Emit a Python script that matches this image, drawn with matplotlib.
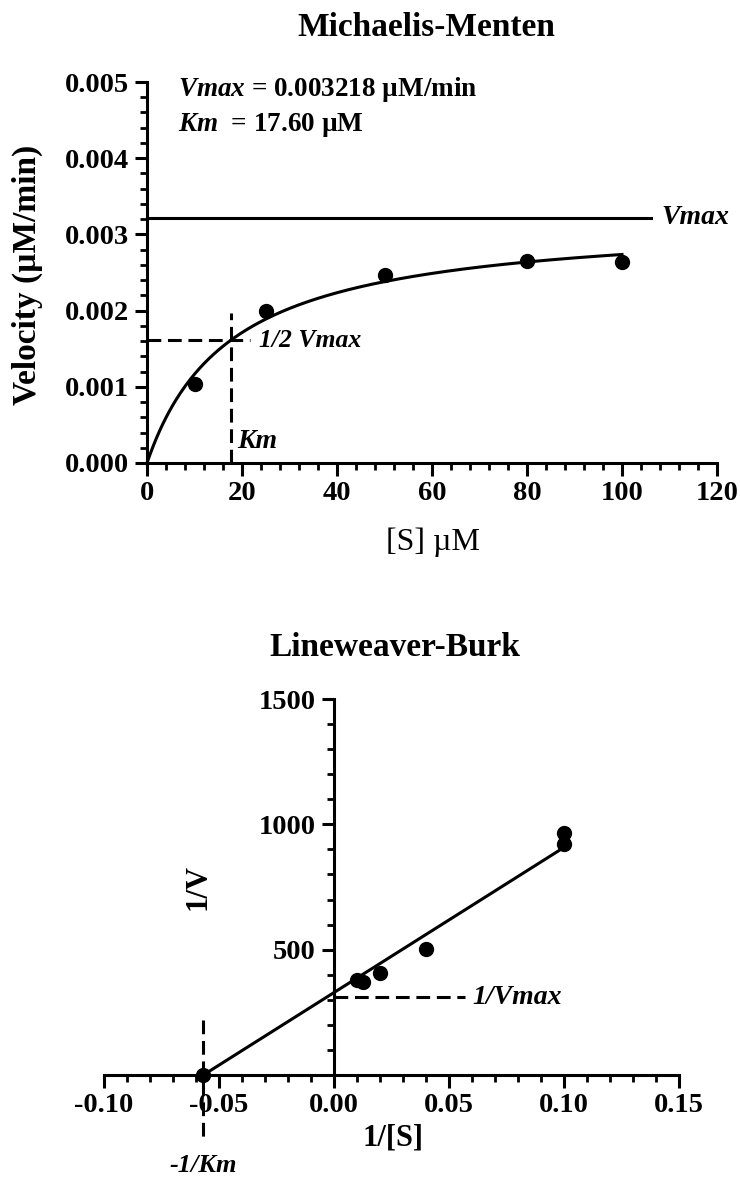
import numpy as np
import matplotlib
matplotlib.use("Agg")
import matplotlib.pyplot as plt
from matplotlib.ticker import MultipleLocator, FormatStrFormatter

# Michaelis-Menten data
substrate = [10, 25, 50, 80, 100]            # [S] uM
velocity = [0.00104, 0.00199, 0.00247, 0.00265, 0.00264]  # uM/min
vmax = 0.003218
km = 17.60

# Lineweaver-Burk data
inv_s = [0.01, 0.0125, 0.02, 0.04, 0.10, 0.10]
inv_v = [380, 373, 407, 503, 964, 920]
lb_line_x = [-1 / km, 0.10]
lb_line_y = [0, 908]

plt.rcParams['font.family'] = ['Liberation Serif', 'DejaVu Serif']
plt.rcParams['font.weight'] = 'bold'
plt.rcParams['axes.unicode_minus'] = False
plt.rcParams['mathtext.fontset'] = 'custom'
plt.rcParams['mathtext.it'] = 'Liberation Serif:italic:bold'
plt.rcParams['mathtext.rm'] = 'Liberation Serif:bold'

LW = 2.2
DASH = (0, (4.5, 2.2))
W, H = 740, 1180
TICK_FS = 20.5
NOTE_FS = 20

fig = plt.figure(figsize=(W / 100, H / 100), dpi=100)


def style_axes(ax):
    for side in ['top', 'right']:
        ax.spines[side].set_visible(False)
    for side in ['left', 'bottom']:
        ax.spines[side].set_linewidth(LW)
    ax.tick_params(which='major', direction='out', length=9, width=2.2,
                   labelsize=TICK_FS, pad=4)
    ax.tick_params(which='minor', direction='out', length=5, width=2.0)
    for lab in ax.get_xticklabels() + ax.get_yticklabels():
        lab.set_fontweight('bold')


# ---------------- Michaelis-Menten ----------------
ax1 = fig.add_axes([147 / W, 1 - 463 / H, 570 / W, 381 / H])
ax1.set_xlim(0, 120)
ax1.set_ylim(0, 0.005)
ax1.xaxis.set_major_locator(MultipleLocator(20))
ax1.xaxis.set_minor_locator(MultipleLocator(4))
ax1.yaxis.set_major_locator(MultipleLocator(0.001))
ax1.yaxis.set_minor_locator(MultipleLocator(0.0002))
ax1.yaxis.set_major_formatter(FormatStrFormatter('%.3f'))
style_axes(ax1)

s_fit = np.linspace(0, 100, 300)
ax1.plot(s_fit, vmax * s_fit / (km + s_fit), color='black', lw=LW, clip_on=False)
ax1.plot(substrate, velocity, 'o', color='black', ms=10, clip_on=False)

# Vmax line
ax1.plot([0, 106], [vmax, vmax], color='black', lw=LW, clip_on=False)
ax1.text(108.3, vmax, 'Vmax', fontsize=NOTE_FS, fontstyle='italic', fontweight='bold',
         va='center', ha='left')

# half Vmax and Km dashed guides
ax1.plot([0, 21.6], [vmax / 2, vmax / 2], color='black', lw=LW, ls=DASH)
ax1.text(23.6, vmax / 2, '1/2 Vmax', fontsize=18.5, fontstyle='italic',
         fontweight='bold', va='center', ha='left')
ax1.plot([km, km], [0, 0.00197], color='black', lw=LW, ls=DASH)
ax1.text(18.9, 0.00028, 'Km', fontsize=NOTE_FS, fontstyle='italic', fontweight='bold',
         va='center', ha='left')

ax1.text(6.5, 0.00490, r'$Vmax$ = %.6f µM/min' % vmax, fontsize=19.5,
         fontweight='bold', va='center', ha='left')
ax1.text(6.5, 0.00443, r'$Km$  = %.2f µM' % km, fontsize=19.5,
         fontweight='bold', va='center', ha='left')

fig.text(426 / W, 1 - 28 / H, 'Michaelis-Menten', fontsize=24, fontweight='bold',
         ha='center', va='center')
fig.text(27 / W, 1 - 275 / H, 'Velocity (µM/min)', fontsize=24, fontweight='bold',
         rotation=90, ha='center', va='center')
fig.text(433 / W, 1 - 542 / H, '[S] µM', fontsize=23, fontweight='normal',
         ha='center', va='center')

# ---------------- Lineweaver-Burk ----------------
ax2 = fig.add_axes([104 / W, 1 - 1075 / H, 575 / W, 376 / H])
ax2.set_xlim(-0.10, 0.15)
ax2.set_ylim(0, 1500)
ax2.spines['left'].set_position(('data', 0))
ax2.spines['bottom'].set_position(('data', 0))
ax2.xaxis.set_major_locator(MultipleLocator(0.05))
ax2.xaxis.set_minor_locator(MultipleLocator(0.01))
ax2.xaxis.set_major_formatter(FormatStrFormatter('%.2f'))
ax2.set_yticks([500, 1000, 1500])
ax2.yaxis.set_minor_locator(MultipleLocator(100))
style_axes(ax2)

ax2.plot(lb_line_x, lb_line_y, color='black', lw=LW, clip_on=False)
ax2.plot(inv_s, inv_v, 'o', color='black', ms=10, clip_on=False)
ax2.plot([-1 / km], [0], 'o', color='black', ms=10, clip_on=False, zorder=5)

ax2.plot([0, 0.057], [1 / vmax, 1 / vmax], color='black', lw=LW, ls=DASH)
ax2.text(0.060, 1 / vmax, '1/Vmax', fontsize=NOTE_FS, fontstyle='italic',
         fontweight='bold', va='center', ha='left')
ax2.plot([-1 / km, -1 / km], [220, -268], color='black', lw=LW, ls=DASH,
         clip_on=False)
ax2.text(-1 / km, -360, '-1/Km', fontsize=19, fontstyle='italic',
         fontweight='bold', va='center', ha='center', clip_on=False)

fig.text(395 / W, 1 - 647 / H, 'Lineweaver-Burk', fontsize=24, fontweight='bold',
         ha='center', va='center')
fig.text(198 / W, 1 - 887 / H, '1/V', fontsize=22, fontweight='bold',
         rotation=90, ha='center', va='center')
fig.text(393 / W, 1 - 1138 / H, '1/[S]', fontsize=22, fontweight='bold',
         ha='center', va='center')

fig.savefig('out.png', dpi=100)
